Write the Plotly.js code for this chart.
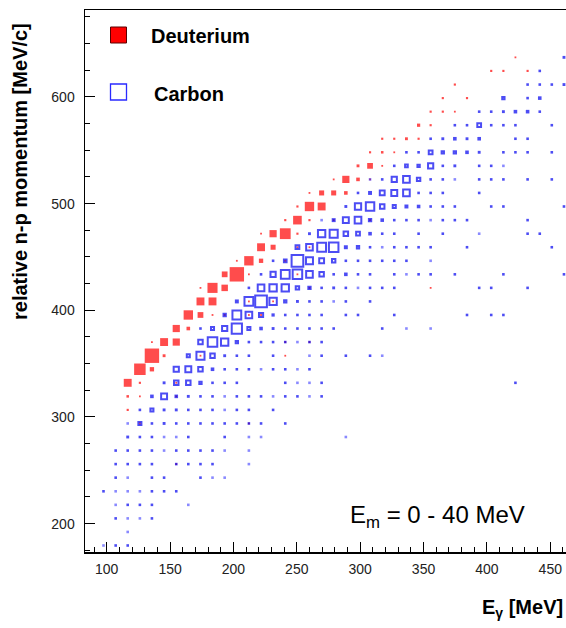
<!DOCTYPE html>
<html>
<head>
<meta charset="utf-8">
<script src="https://cdn.plot.ly/plotly-3.0.1.min.js"></script>
<style>html,body{margin:0;padding:0;background:#fff;}#chart{width:566px;height:628px;}</style>
</head>
<body>
<div id="chart"></div>
<script>
// Bin centres
const eGammaBins = [97.5,107.1,116.6,126.2,135.7,145.3,154.9,164.4,174.0,183.5,193.1,202.7,212.2,221.8,231.3,240.9,250.5,260.0,269.6,279.1,288.7,298.3,307.8,317.4,326.9,336.5,346.1,355.6,365.2,374.7,384.3,393.9,403.4,413.0,422.5,432.1,441.7,451.2,460.8];
const momentumBins = [179.5,192.2,204.9,217.6,230.3,243.1,255.8,268.5,281.2,293.9,306.6,319.3,332.0,344.7,357.4,370.2,382.9,395.6,408.3,421.0,433.7,446.4,459.1,471.8,484.5,497.3,510.0,522.7,535.4,548.1,560.8,573.5,586.2,598.9,611.6,624.4,637.1];

// Deuterium cells: column index, row index, content
const deutCol = [
 6,
 3,12,
 2,
 2,3,6,
 2,3,6,
 3,4,
 4,5,8,15,
 4,5,6,15,17,
 6,7,
 7,8,9,10,12,13,
 8,9,12,14,
 8,9,10,17,27,
 10,11,12,16,
 11,12,13,15,
 13,14,16,17,
 13,14,15,16,
 15,16,17,19,22,
 16,17,18,
 17,18,19,20,
 19,20,21,22,
 21,22,23,
 22,23,24,
 23,24,25,26,
 26,27,
 27,28,29,
 28,30,
 29,
 32,33,35,
 34
];
const deutRow = [
 6,
 9,9,
 10,
 11,11,11,
 12,12,12,
 13,13,
 14,14,14,14,
 15,15,15,15,15,
 16,16,
 17,17,17,17,17,17,
 18,18,18,18,
 19,19,19,19,19,
 20,20,20,20,
 21,21,21,21,
 22,22,22,22,
 23,23,23,23,
 24,24,24,24,24,
 25,25,25,
 26,26,26,26,
 27,27,27,27,
 28,28,28,
 29,29,29,
 30,30,30,30,
 31,31,
 32,32,32,
 33,33,
 34,
 35,35,35,
 36
];
const deutCount = [
 2,
 3,2,
 6,
 7,3,3,
 22,6,3,
 32,12,
 40,8,3,4,
 3,22,20,2,2,
 20,10,
 26,16,3,3,3,3,
 22,22,4,3,
 3,28,18,3,4,
 16,40,3,3,
 3,26,12,3,
 22,14,3,3,
 3,20,30,6,
 6,24,6,3,3,
 6,26,22,
 5,14,14,10,
 5,20,10,3,
 8,16,3,
 6,7,3,
 6,6,8,6,
 9,6,
 6,6,3,
 6,6,
 6,
 6,6,6,
 5
];

// Carbon cells: column index, row index, content
const carbCol = [
 0,1,2,
 2,
 1,2,3,4,
 1,2,3,4,7,
 0,1,2,3,4,5,6,
 1,2,4,5,8,9,10,
 1,2,3,4,6,7,8,9,12,
 1,2,3,4,5,6,7,8,9,10,12,
 2,3,4,5,6,7,10,12,13,20,
 2,3,4,5,6,7,8,9,10,11,12,13,15,
 3,4,5,6,7,8,9,10,11,12,14,
 4,5,6,7,8,9,10,11,12,13,14,15,16,17,18,
 5,6,7,8,9,10,11,15,16,17,18,34,
 6,7,8,9,10,11,12,13,14,15,16,17,
 7,8,9,10,11,12,14,17,18,20,22,23,
 8,9,10,11,12,13,14,15,16,17,18,
 8,9,10,11,12,13,14,15,16,17,18,19,23,25,27,
 10,11,12,13,14,15,16,17,18,20,21,24,30,32,33,
 11,12,13,14,15,16,17,18,19,20,22,
 12,13,14,15,16,17,18,19,20,21,22,23,24,31,32,35,
 13,14,15,16,17,18,19,20,21,22,24,25,26,27,29,33,38,
 14,15,16,17,18,19,20,21,22,23,24,25,27,
 16,17,18,19,20,21,22,23,24,25,26,27,30,37,
 17,18,19,20,21,22,23,24,26,28,31,35,36,
 18,19,20,21,22,23,24,25,26,27,28,29,30,35,
 20,21,22,23,24,25,26,27,28,29,32,33,38,
 21,22,23,24,25,26,27,28,31,
 22,23,24,25,26,27,28,29,31,32,33,35,37,
 24,25,26,27,28,29,31,32,33,
 25,26,27,28,29,30,31,33,34,35,37,
 27,28,29,30,31,34,35,
 29,30,31,32,33,34,37,
 31,32,33,34,35,36,
 33,35,36,
 35,36,37,38,
 36,
 38
];
const carbRow = [
 0,0,0,
 1,
 2,2,2,2,
 3,3,3,3,3,
 4,4,4,4,4,4,4,
 5,5,5,5,5,5,5,
 6,6,6,6,6,6,6,6,6,
 7,7,7,7,7,7,7,7,7,7,7,
 8,8,8,8,8,8,8,8,8,8,
 9,9,9,9,9,9,9,9,9,9,9,9,9,
 10,10,10,10,10,10,10,10,10,10,10,
 11,11,11,11,11,11,11,11,11,11,11,11,11,11,11,
 12,12,12,12,12,12,12,12,12,12,12,12,
 13,13,13,13,13,13,13,13,13,13,13,13,
 14,14,14,14,14,14,14,14,14,14,14,14,
 15,15,15,15,15,15,15,15,15,15,15,
 16,16,16,16,16,16,16,16,16,16,16,16,16,16,16,
 17,17,17,17,17,17,17,17,17,17,17,17,17,17,17,
 18,18,18,18,18,18,18,18,18,18,18,
 19,19,19,19,19,19,19,19,19,19,19,19,19,19,19,19,
 20,20,20,20,20,20,20,20,20,20,20,20,20,20,20,20,20,
 21,21,21,21,21,21,21,21,21,21,21,21,21,
 22,22,22,22,22,22,22,22,22,22,22,22,22,22,
 23,23,23,23,23,23,23,23,23,23,23,23,23,
 24,24,24,24,24,24,24,24,24,24,24,24,24,24,
 25,25,25,25,25,25,25,25,25,25,25,25,25,
 26,26,26,26,26,26,26,26,26,
 27,27,27,27,27,27,27,27,27,27,27,27,27,
 28,28,28,28,28,28,28,28,28,
 29,29,29,29,29,29,29,29,29,29,29,
 30,30,30,30,30,30,30,
 31,31,31,31,31,31,31,
 32,32,32,32,32,32,
 33,33,33,
 34,34,34,34,
 35,
 36
];
const carbCount = [
 3,4,4,
 3,
 5,3,3,4,
 3,4,4,4,3,
 4,3,3,3,4,4,4,
 4,3,4,4,4,3,3,
 4,4,4,4,4,4,4,4,3,
 4,5,5,5,3,4,4,4,4,3,3,
 8,5,5,3,3,4,4,3,3,3,
 3,14,6,8,5,5,4,4,4,4,4,4,4,
 5,14,8,8,5,5,4,3,4,4,4,
 10,22,10,8,5,5,3,4,4,4,3,4,4,3,4,
 8,18,18,12,5,5,5,4,3,3,4,4,
 20,22,18,10,5,5,4,3,4,4,3,4,
 14,28,18,8,5,5,5,3,4,4,4,3,
 18,32,26,12,5,5,5,5,3,5,4,
 4,14,20,34,14,10,8,5,5,5,5,5,4,3,3,
 12,30,24,17,9,6,5,5,4,5,5,4,4,4,4,
 11,30,38,26,12,8,5,5,3,5,5,
 6,24,26,26,15,12,5,8,5,3,5,5,5,4,4,4,
 4,20,30,32,24,18,6,10,5,5,5,3,5,5,5,4,4,
 4,13,38,25,19,15,6,5,5,5,5,4,3,
 16,24,30,32,11,12,5,3,5,5,5,5,5,4,
 8,26,28,18,16,10,5,5,5,5,3,4,4,
 3,11,22,24,12,10,5,5,5,3,4,5,5,4,
 8,23,29,18,14,11,10,5,5,5,4,4,4,
 5,11,19,22,24,5,7,5,4,
 3,5,20,24,15,7,5,3,4,4,4,4,4,
 5,13,12,20,7,8,4,4,3,
 5,5,16,12,12,10,8,4,4,4,4,
 5,8,10,8,10,4,4,
 5,6,16,5,5,5,4,
 5,5,8,10,10,5,
 12,5,10,
 5,5,5,8,
 5,
 8
];

const legendLabels = ['Deuterium', 'Carbon'];
const xTitle = '<b>E<sub>γ</sub> [MeV]</b>';
const yTitle = '<b>relative n-p momentum [MeV/c]</b>';
const cutLabel = 'E<sub>m</sub> = 0 - 40 MeV';

// box side in pixels grows linearly with the cell content
const PX_PER_COUNT = 0.36;
function boxSize(n, open) {
  const s = n * PX_PER_COUNT;
  return open ? Math.max(s - 2, 0.6) : Math.max(s, 1.8);
}

const deutTrace = {
  type: 'scatter', mode: 'markers', name: legendLabels[0],
  x: deutCol.map(k => eGammaBins[k]),
  y: deutRow.map(j => momentumBins[j]),
  marker: {
    symbol: 'square', color: '#ff0000',
    size: deutCount.map(n => boxSize(n, false)),
    line: {width: 0}
  },
  hoverinfo: 'skip', showlegend: false
};

const carbTrace = {
  type: 'scatter', mode: 'markers', name: legendLabels[1],
  x: carbCol.map(k => eGammaBins[k]),
  y: carbRow.map(j => momentumBins[j]),
  marker: {
    symbol: 'square-open',
    color: carbCount.map(n => n <= 3 ? 'rgba(30,30,255,0.75)' : '#0000f0'),
    size: carbCount.map(n => boxSize(n, true)),
    line: {width: 2}
  },
  hoverinfo: 'skip', showlegend: false
};

const L = 85, T = 10, W = 481, H = 542;
function px(xp) { return (xp - L) / W; }
function py(yp) { return (T + H - yp) / H; }

const layout = {
  width: 566, height: 628,
  margin: {l: L, r: 0, t: T, b: 628 - T - H, pad: 0},
  paper_bgcolor: '#ffffff', plot_bgcolor: '#ffffff',
  font: {family: 'Liberation Sans, Arial, sans-serif', color: '#000'},
  showlegend: false,
  xaxis: {
    range: [82.9, 462.4], showgrid: false, zeroline: false,
    showline: true, linecolor: '#000', linewidth: 1.5, mirror: true,
    ticks: 'inside', ticklen: 10, tickwidth: 1, tickcolor: '#000',
    tick0: 0, dtick: 50,
    minor: {dtick: 10, ticks: 'inside', ticklen: 5, tickwidth: 1, tickcolor: '#000'},
    tickfont: {size: 14, color: '#222'}, ticklabelstandoff: 4
  },
  yaxis: {
    range: [173.4, 681.5], showgrid: false, zeroline: false,
    showline: true, linecolor: '#000', linewidth: 1.5, mirror: false,
    ticks: 'inside', ticklen: 10, tickwidth: 1, tickcolor: '#000',
    tick0: 0, dtick: 100,
    minor: {dtick: 25, ticks: 'inside', ticklen: 5, tickwidth: 1, tickcolor: '#000'},
    tickfont: {size: 14, color: '#222'}, ticklabelstandoff: 6
  },
  shapes: [
    {type: 'rect', xref: 'paper', yref: 'paper', x0: px(110.5), x1: px(126.5), y0: py(43), y1: py(27),
     fillcolor: '#ff0000', line: {color: '#5a0000', width: 1}},
    {type: 'rect', xref: 'paper', yref: 'paper', x0: px(110.5), x1: px(126.5), y0: py(100), y1: py(84),
     fillcolor: 'rgba(0,0,0,0)', line: {color: '#2a2aff', width: 1.3}}
  ],
  annotations: [
    {xref: 'paper', yref: 'paper', x: px(149), y: py(36), xanchor: 'left', yanchor: 'middle',
     text: '<b>' + legendLabels[0] + '</b>', showarrow: false, font: {size: 20, color: '#000'}},
    {xref: 'paper', yref: 'paper', x: px(152), y: py(94), xanchor: 'left', yanchor: 'middle',
     text: '<b>' + legendLabels[1] + '</b>', showarrow: false, font: {size: 20, color: '#000'}},
    {xref: 'paper', yref: 'paper', x: px(20), y: py(172), xanchor: 'center', yanchor: 'middle',
     textangle: -90, text: yTitle, showarrow: false, font: {size: 20, color: '#000'}},
    {xref: 'paper', yref: 'paper', x: px(565), y: py(608), xanchor: 'right', yanchor: 'middle',
     text: xTitle, showarrow: false, font: {size: 20, color: '#000'}},
    {xref: 'paper', yref: 'paper', x: px(348), y: py(516), xanchor: 'left', yanchor: 'middle',
     text: cutLabel, showarrow: false, font: {size: 24, color: '#000'}}
  ]
};

Plotly.newPlot('chart', [deutTrace, carbTrace], layout, {staticPlot: true, displayModeBar: false});
</script>
</body>
</html>
